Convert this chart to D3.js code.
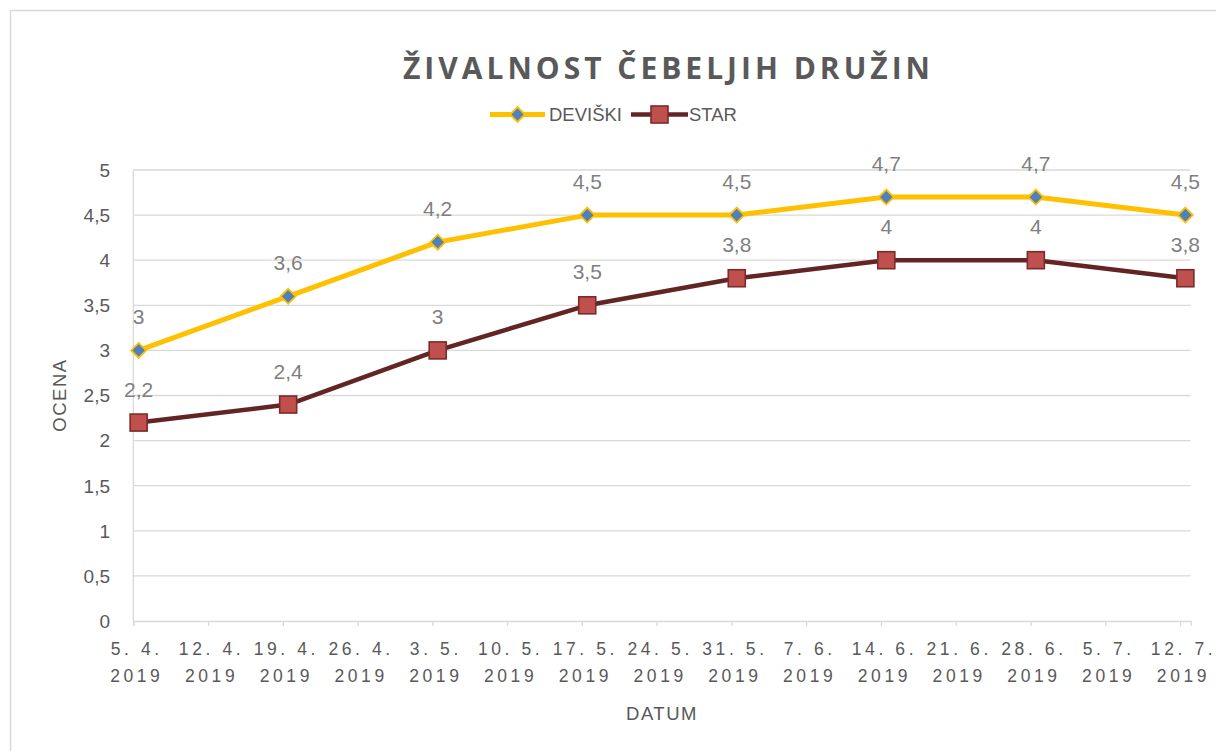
<!DOCTYPE html>
<html><head><meta charset="utf-8">
<script src="https://cdn.jsdelivr.net/npm/d3@7"></script>
<style>
html,body{margin:0;padding:0;background:#fff;}
svg{display:block;}
text{font-family:"Liberation Sans",Arial,sans-serif;}
</style></head>
<body><svg id="c" width="1216" height="751"></svg>
<script>
const chartTitle = "ŽIVALNOST ČEBELJIH DRUŽIN";
const xTitle = "DATUM";
const yTitle = "OCENA";
const seriesNames = ["DEVIŠKI", "STAR"];
const dates = ["2019-04-05","2019-04-19","2019-05-03","2019-05-17","2019-05-31","2019-06-14","2019-06-28","2019-07-12"];
const deviski = [3, 3.6, 4.2, 4.5, 4.5, 4.7, 4.7, 4.5];
const star = [2.2, 2.4, 3, 3.5, 3.8, 4, 4, 3.8];
const tickDates = ["2019-04-05","2019-04-12","2019-04-19","2019-04-26","2019-05-03","2019-05-10","2019-05-17","2019-05-24","2019-05-31","2019-06-07","2019-06-14","2019-06-21","2019-06-28","2019-07-05","2019-07-12"];
const yTicks = [0,0.5,1,1.5,2,2.5,3,3.5,4,4.5,5];
const axisEnd = "2019-07-13";

const svg = d3.select("#c");
const parse = d3.utcParse("%Y-%m-%d");
const HALF_DAY = 12*3600*1000;

const x = d3.scaleUtc().domain([parse(tickDates[0]), parse(axisEnd)]).range([133.3, 1190.7]);
const y = d3.scaleLinear().domain([0,5]).range([621,170]);
const fmtNum = v => String(v).replace(".", ",");
const gridC = "#d9d9d9", textC = "#595959", labelC = "#7f7f7f";

// outer border
svg.append("rect").attr("x",10.5).attr("y",10.5).attr("width",1220).attr("height",760)
  .attr("fill","none").attr("stroke",gridC).attr("stroke-width",1.5);

// gridlines
svg.append("g").selectAll("line").data(yTicks.filter(v=>v>0)).join("line")
  .attr("x1",x.range()[0]).attr("x2",x.range()[1])
  .attr("y1",d=>y(d)).attr("y2",d=>y(d))
  .attr("stroke",gridC).attr("stroke-width",1.3);

// y axis line
svg.append("line").attr("x1",133.3).attr("x2",133.3).attr("y1",y(5)).attr("y2",y(0))
  .attr("stroke",gridC).attr("stroke-width",1.3);

// x axis
const xAxis = d3.axisBottom(x).tickValues(tickDates.map(parse)).tickSize(5).tickFormat("");
const gx = svg.append("g").attr("transform",`translate(0,${y(0)})`).call(xAxis);
gx.select(".domain").attr("stroke",gridC).attr("stroke-width",1.3);
gx.selectAll(".tick line").attr("stroke",gridC).attr("stroke-width",1.3);

const fmtDM = d3.utcFormat("%-d. %-m."), fmtY = d3.utcFormat("%Y");
const tl = svg.append("g").selectAll("text").data(tickDates.map(parse)).join("text")
  .attr("text-anchor","middle").attr("fill",textC).attr("font-size",17.5)
  .style("letter-spacing","3.6px");
tl.append("tspan").attr("x",d=>x(d)+3.5).attr("y",655).text(d=>fmtDM(d));
tl.append("tspan").attr("x",d=>x(d)+3.5).attr("y",682).text(d=>fmtY(d));

// y tick labels
svg.append("g").selectAll("text").data(yTicks).join("text")
  .attr("x",110).attr("y",d=>y(d)+6.8).attr("text-anchor","end")
  .attr("fill",textC).attr("font-size",19).text(d=>fmtNum(d));

// axis titles
svg.append("text").attr("x",662).attr("y",720).attr("text-anchor","middle")
  .attr("fill",textC).attr("font-size",18.5).style("letter-spacing","1.5px").text(xTitle);
svg.append("text").attr("transform","translate(66,395) rotate(-90)").attr("text-anchor","middle")
  .attr("fill",textC).attr("font-size",18.5).style("letter-spacing","1.5px").text(yTitle);

// title
svg.append("text").attr("x",403).attr("y",79)
  .attr("fill",textC).attr("font-size",30).attr("font-weight","bold")
  .style("font-family","'Open Sans',sans-serif")
  .attr("textLength",527).attr("lengthAdjust","spacing").text(chartTitle);

// series
const series = [
  {name:seriesNames[0], values:deviski, line:"#FFC000", lw:5, marker:"diamond", fill:"#4F81BD", stroke:"#FFC000"},
  {name:seriesNames[1], values:star, line:"#632523", lw:4.5, marker:"square", fill:"#C0504D", stroke:"#7B2B29"}
];
const px = i => x(new Date(parse(dates[i]).getTime()+HALF_DAY));
const line = d3.line().x((d,i)=>px(i)).y(d=>y(d));

function drawMarker(g, s, cx, cy){
  if(s.marker==="diamond"){
    const r=7.5;
    g.append("path").attr("d",`M${cx},${cy-r}L${cx+r},${cy}L${cx},${cy+r}L${cx-r},${cy}Z`)
      .attr("fill",s.fill).attr("stroke",s.stroke).attr("stroke-width",1.8);
  } else {
    const h=8.5;
    g.append("rect").attr("x",cx-h).attr("y",cy-h).attr("width",2*h).attr("height",2*h)
      .attr("fill",s.fill).attr("stroke",s.stroke).attr("stroke-width",1.6);
  }
}

series.forEach(s=>{
  svg.append("path").datum(s.values).attr("d",line).attr("fill","none")
    .attr("stroke",s.line).attr("stroke-width",s.lw).attr("stroke-linejoin","round");
});
series.forEach(s=>{
  const g = svg.append("g");
  s.values.forEach((v,i)=>drawMarker(g,s,px(i),y(v)));
  svg.append("g").selectAll("text").data(s.values).join("text")
    .attr("x",(d,i)=>px(i)).attr("y",d=>y(d)-26)
    .attr("text-anchor","middle").attr("fill",labelC).attr("font-size",21)
    .text(d=>fmtNum(d));
});

// legend
const leg = [
  {s:series[0], x1:490, x2:545, tx:549},
  {s:series[1], x1:631, x2:688, tx:689}
];
leg.forEach(l=>{
  const g=svg.append("g");
  g.append("line").attr("x1",l.x1).attr("x2",l.x2).attr("y1",114.5).attr("y2",114.5)
    .attr("stroke",l.s.line).attr("stroke-width",l.s.lw);
  drawMarker(g,l.s,(l.x1+l.x2)/2,114.5);
  g.append("text").attr("x",l.tx).attr("y",121).attr("fill",textC).attr("font-size",18.5).text(l.s.name);
});
</script></body></html>
